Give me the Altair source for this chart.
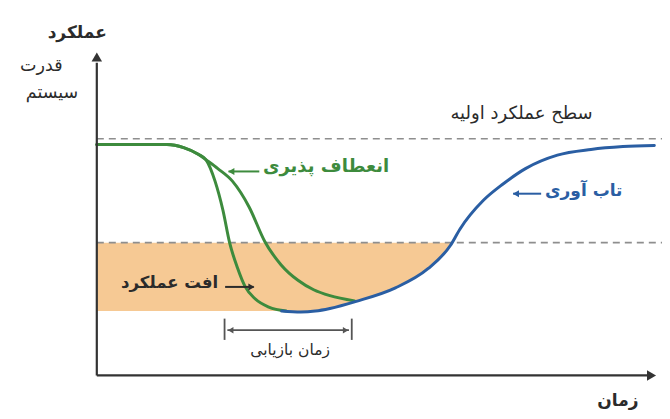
import altair as alt
import pandas as pd

# ---- scale domains (time: 0..100 on the axis, performance: initial level = 100)
X_DOM = [-15.85, 100.87]
Y_DOM = [-15.04, 155.28]

# ---- curves
shared_t = [0, 6.8, 12.5, 15.5, 18.1, 19.5]
shared_p = [97.6, 97.6, 97.6, 96.3, 93.5, 91.1]

fast_t = [21.1, 22.5, 23.7, 25.1, 26.5, 28.2, 30.7, 33.8]
fast_p = [82.1, 69.9, 56.1, 45.5, 37.4, 32.5, 28.9, 27.2]

slow_t = [21.6, 24.2, 27.2, 30.0, 32.9, 35.9, 38.7, 41.6, 46.0]
slow_p = [87.4, 82.1, 71.1, 56.5, 46.7, 40.2, 36.2, 33.7, 31.5]

blue_t = [33.0, 36.4, 39.0, 41.6, 46.3, 53.3, 59.1, 63.1, 64.8, 69.0, 72.5, 76.5, 82.2, 88.2, 93.9, 99.5]
blue_p = [27.2, 26.8, 27.2, 28.3, 31.3, 37.0, 45.1, 54.9, 61.8, 74.0, 80.9, 87.4, 93.1, 95.5, 96.7, 97.2]

# ---- reference levels
initial_level = 100.0
threshold_level = 56.1

fill_t = [0, 33.0, 36.4, 39.0, 41.6, 46.3, 53.3, 59.1, 63.1, 63.4]
fill_low = [27.2, 27.2, 26.8, 27.2, 28.3, 31.3, 37.0, 45.1, 54.9, 56.1]

GREEN = "#3d8b3d"
BLUE = "#2a5ea3"
DARK = "#2b2b2b"
FILL = "#f6c994"
DASH = "#8e8e8e"
FONT = "DejaVu Sans"

xs = alt.Scale(domain=X_DOM, nice=False, zero=False)
ys = alt.Scale(domain=Y_DOM, nice=False, zero=False)


def X(f="t"):
    return alt.X(f"{f}:Q", scale=xs, axis=None)


def Y(f="p"):
    return alt.Y(f"{f}:Q", scale=ys, axis=None)


# fill area
fill_df = pd.DataFrame({"t": fill_t, "low": fill_low, "top": [threshold_level] * len(fill_t)})
fill = alt.Chart(fill_df).mark_area(color=FILL, opacity=1, interpolate="monotone").encode(
    x=X(), y=Y("top"), y2="low:Q"
)

# dashed reference lines
dash_df = pd.DataFrame({"t0": [0, 0], "t1": [X_DOM[1], X_DOM[1]], "p": [initial_level, threshold_level]})
dashes = alt.Chart(dash_df).mark_rule(color=DASH, strokeWidth=1.6, strokeDash=[7, 5]).encode(
    x=X("t0"), x2="t1:Q", y=Y()
)

# green curves
g_rows = []
for name, bt, bp in [("fast", fast_t, fast_p), ("slow", slow_t, slow_p)]:
    for i, (t, p) in enumerate(zip(shared_t + bt, shared_p + bp)):
        g_rows.append({"curve": name, "t": t, "p": p, "o": i})
green = alt.Chart(pd.DataFrame(g_rows)).mark_line(
    color=GREEN, strokeWidth=3, interpolate="monotone", strokeCap="round"
).encode(x=X(), y=Y(), detail="curve:N", order="o:Q")

blue = alt.Chart(pd.DataFrame({"t": blue_t, "p": blue_p})).mark_line(
    color=BLUE, strokeWidth=3, interpolate="monotone", strokeCap="round"
).encode(x=X(), y=Y())

# axes
axis_df = pd.DataFrame({"t0": [0, 0], "t1": [0, 98.4], "p0": [0, 0], "p1": [132.1, 0]})
axes = alt.Chart(axis_df).mark_rule(color="#333333", strokeWidth=2.2).encode(
    x=X("t0"), x2="t1:Q", y=Y("p0"), y2="p1:Q"
)
heads_df = pd.DataFrame({"t": [0, 99.0], "p": [134.6, 0], "shape": ["triangle-up", "triangle-right"]})
heads = alt.Chart(heads_df).mark_point(filled=True, color="#333333", size=110, opacity=1).encode(
    x=X(), y=Y(), shape=alt.Shape("shape:N", scale=None)
)

# annotation arrows
arr_df = pd.DataFrame({
    "t0": [23.5, 74.3, 22.9],
    "t1": [29.0, 79.3, 28.0],
    "p": [86.2, 76.8, 37.4],
    "c": [GREEN, BLUE, DARK],
})
arr_lines = alt.Chart(arr_df).mark_rule(strokeWidth=2).encode(
    x=X("t0"), x2="t1:Q", y=Y(), color=alt.Color("c:N", scale=None)
)
tip_df = pd.DataFrame({
    "t": [24.0, 74.8, 27.6],
    "p": [86.2, 76.8, 37.4],
    "c": [GREEN, BLUE, DARK],
    "shape": ["triangle-left", "triangle-left", "triangle-right"],
})
arr_tips = alt.Chart(tip_df).mark_point(filled=True, size=50, opacity=1).encode(
    x=X(), y=Y(), color=alt.Color("c:N", scale=None), shape=alt.Shape("shape:N", scale=None)
)

# recovery time bracket
br_v = pd.DataFrame({"t": [22.8, 45.5], "p0": [24.0, 24.0], "p1": [15.0, 15.0]})
br_ticks = alt.Chart(br_v).mark_rule(color="#555555", strokeWidth=1.8).encode(
    x=X(), y=Y("p0"), y2="p1:Q"
)
br_h = pd.DataFrame({"t0": [23.3], "t1": [45.0], "p": [19.1]})
br_line = alt.Chart(br_h).mark_rule(color="#555555", strokeWidth=1.8).encode(
    x=X("t0"), x2="t1:Q", y=Y()
)
br_tip_df = pd.DataFrame({"t": [23.9, 44.4], "p": [19.1, 19.1], "shape": ["triangle-left", "triangle-right"]})
br_tips = alt.Chart(br_tip_df).mark_point(filled=True, color="#555555", size=40, opacity=1).encode(
    x=X(), y=Y(), shape=alt.Shape("shape:N", scale=None)
)

# text labels
labels = pd.DataFrame([
    {"txt": "عملکرد", "t": -3.5, "p": 144.7, "c": DARK, "s": 17, "w": "bold"},
    {"txt": "قدرت", "t": -9.9, "p": 130.9, "c": DARK, "s": 17.5, "w": "normal"},
    {"txt": "سیستم", "t": -8.0, "p": 119.5, "c": DARK, "s": 17.5, "w": "normal"},
    {"txt": "سطح عملکرد اولیه", "t": 75.8, "p": 110.6, "c": DARK, "s": 18, "w": "normal"},
    {"txt": "انعطاف پذیری", "t": 40.9, "p": 88.2, "c": GREEN, "s": 18, "w": "bold"},
    {"txt": "تاب آوری", "t": 86.9, "p": 78.0, "c": BLUE, "s": 17, "w": "bold"},
    {"txt": "افت عملکرد", "t": 13.0, "p": 39.0, "c": DARK, "s": 16.5, "w": "bold"},
    {"txt": "زمان بازیابی", "t": 34.5, "p": 10.6, "c": DARK, "s": 15.5, "w": "normal"},
    {"txt": "زمان", "t": 93.0, "p": -11.0, "c": DARK, "s": 17, "w": "bold"},
])
text_layers = []
for _, r in labels.iterrows():
    text_layers.append(
        alt.Chart(pd.DataFrame([r])).mark_text(
            font=FONT, fontSize=float(r["s"]), fontWeight=r["w"], color=r["c"],
            align="center", baseline="middle",
        ).encode(x=X(), y=Y(), text="txt:N")
    )

chart = alt.layer(
    fill, dashes, green, blue, axes, heads, arr_lines, arr_tips,
    br_ticks, br_line, br_tips, *text_layers
).properties(
    width=654, height=403, padding=0,
    autosize=alt.AutoSizeParams(type="none"),
    background="white",
).configure_view(stroke=None)

chart.save("out.html", embed_options={"renderer": "svg", "actions": False})
